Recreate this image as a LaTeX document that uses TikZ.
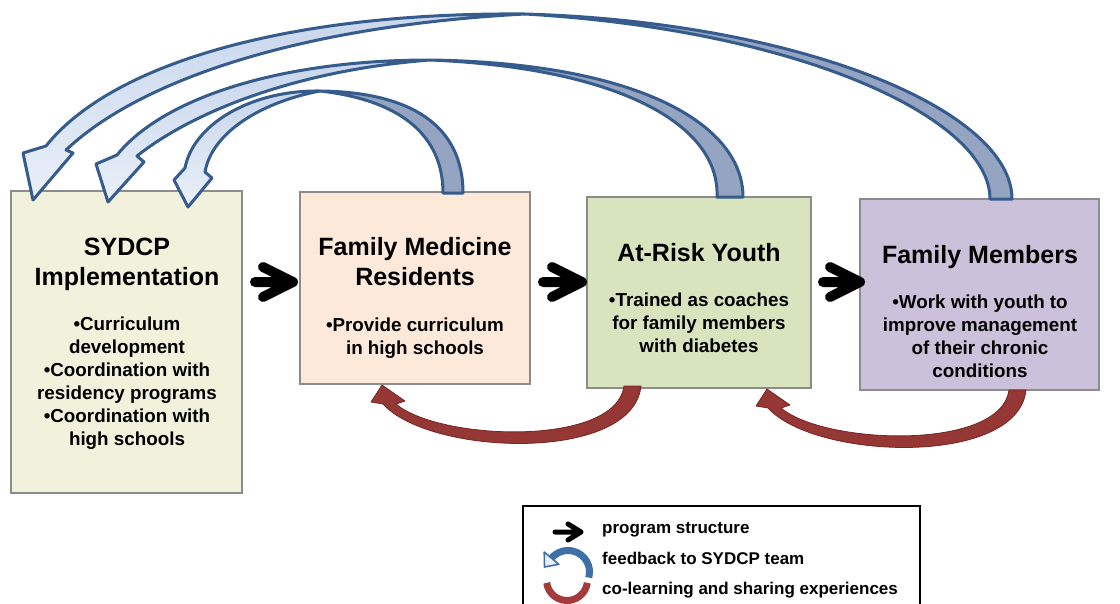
\documentclass[tikz,border=0pt]{standalone}
\usepackage{fontspec}
\setmainfont{Liberation Sans}
\usetikzlibrary{calc}
\definecolor{boxline}{RGB}{140,140,140}
\definecolor{sydfill}{RGB}{242,242,220}
\definecolor{fmrfill}{RGB}{253,233,217}
\definecolor{aryfill}{RGB}{215,228,189}
\definecolor{fmmfill}{RGB}{204,193,218}
\definecolor{fbline}{RGB}{53,92,140}
\definecolor{fbdark}{RGB}{149,164,192}
\definecolor{fblighttop}{RGB}{200,214,236}
\definecolor{fblightbot}{RGB}{234,240,249}
\definecolor{colred}{RGB}{149,55,53}
\definecolor{colreddark}{RGB}{118,38,36}
\definecolor{legblue}{RGB}{62,111,166}
\definecolor{legred}{RGB}{163,59,58}
\tikzset{
  box/.style={draw=boxline, line width=1.2pt, rectangle, inner sep=0pt},
  ttl/.style={font=\fontsize{25}{30}\selectfont\bfseries, anchor=base, inner sep=0pt},
  bdy/.style={font=\fontsize{18.8}{23}\selectfont\bfseries, anchor=base, inner sep=0pt},
  legtxt/.style={font=\fontsize{17}{20}\selectfont\bfseries, anchor=base west, inner sep=0pt},
  prog/.style={draw=black, line width=10pt, line cap=round, line join=round},
  fbdarkp/.style={fill=fbdark, draw=fbline, line width=3pt, line join=round},
  fblightp/.style={top color=fblighttop, bottom color=fblightbot, draw=fbline, line width=3pt, line join=round},
  redp/.style={fill=colred, draw=colreddark, line width=0.8pt, line join=round},
}
\begin{document}
\begin{tikzpicture}[x=1pt, y=-1pt]
\useasboundingbox (0,0) rectangle (1120,603);
\clip (0,0) rectangle (1120,603);

% boxes
\node[box, fill=sydfill, minimum width=231pt, minimum height=302pt] (syd) at (126.5,342) {};
\node[box, fill=fmrfill, minimum width=230pt, minimum height=192pt] (fmr) at (415,288) {};
\node[box, fill=aryfill, minimum width=224pt, minimum height=191pt] (ary) at (699,292.5) {};
\node[box, fill=fmmfill, minimum width=239pt, minimum height=191pt] (fmm) at (979.5,294.5) {};

% texts
\node[ttl] (sydt1) at (127,255) {SYDCP};
\node[ttl] (sydt2) at (127,285) {Implementation};
\node[bdy] (sydb1) at (127,330) {•Curriculum};
\node[bdy] (sydb2) at (127,353) {development};
\node[bdy] (sydb3) at (127,376) {•Coordination with};
\node[bdy] (sydb4) at (127,399) {residency programs};
\node[bdy] (sydb5) at (127,422) {•Coordination with};
\node[bdy] (sydb6) at (127,445) {high schools};

\node[ttl] (fmrt1) at (415,255) {Family Medicine};
\node[ttl] (fmrt2) at (415,285) {Residents};
\node[bdy] (fmrb1) at (415,331) {•Provide curriculum};
\node[bdy] (fmrb2) at (415,354) {in high schools};

\node[ttl] (aryt1) at (699,261) {At-Risk Youth};
\node[bdy] (aryb1) at (699,306) {•Trained as coaches};
\node[bdy] (aryb2) at (699,329) {for family members};
\node[bdy] (aryb3) at (699,352) {with diabetes};

\node[ttl] (fmmt1) at (980,263) {Family Members};
\node[bdy] (fmmb1) at (980,308) {•Work with youth to};
\node[bdy] (fmmb2) at (980,331) {improve management};
\node[bdy] (fmmb3) at (980,354) {of their chronic};
\node[bdy] (fmmb4) at (980,377) {conditions};

% program structure arrows
\coordinate (p1s) at (255,282); \coordinate (p1t) at (293,282);
\coordinate (p2s) at (543,282); \coordinate (p2t) at (582,282);
\coordinate (p3s) at (823,282); \coordinate (p3t) at (860,282);
\foreach \s/\t in {p1s/p1t, p2s/p2t, p3s/p3t}{
  \draw[prog] (\s) -- (\t) ($(\t)+(-30,-15)$) -- (\t) -- ($(\t)+(-30,15)$);
}

% feedback arrows (Family Members -> SYDCP)
\path[fbdarkp] (1012,199) .. controls (1012,110) and (800,22) .. (525,14)
  .. controls (800,30) and (990,118) .. (990,199) -- cycle;
\path[fblightp] (525,14) .. controls (290,12) and (112,63) .. (46,146)
  -- (23,153) -- (33,200) -- (73,153) -- (66,150)
  .. controls (140,80) and (300,26) .. (525,14) -- cycle;
% At-Risk Youth -> SYDCP
\path[fbdarkp] (743,197) .. controls (743,125) and (640,63) .. (430,60)
  .. controls (620,68) and (720,125) .. (717,197) -- cycle;
\path[fblightp] (430,60) .. controls (280,60) and (163,98) .. (117,155)
  -- (96,164) -- (108,202) -- (144,162) -- (137,156)
  .. controls (195,110) and (300,70) .. (430,60) -- cycle;
% Family Medicine -> SYDCP
\path[fbdarkp] (463,193) .. controls (463,125) and (410,92) .. (320,91)
  .. controls (400,100) and (443,135) .. (443,193) -- cycle;
\path[fblightp] (320,91) .. controls (250,90) and (193,125) .. (185,168)
  -- (174,180) -- (188,207) -- (212,178) -- (205,172)
  .. controls (212,132) and (262,102) .. (320,91) -- cycle;

% co-learning arrows
\path[redp] (641,386) .. controls (633,463) and (430,456) .. (383,404)
  -- (371,402) -- (382,385) -- (405,401) -- (396,404)
  .. controls (440,441) and (616,447) .. (624,386) -- cycle;
\begin{scope}[shift={(385,4)}]
\path[redp] (641,386) .. controls (633,463) and (430,456) .. (383,404)
  -- (371,402) -- (382,385) -- (405,401) -- (396,404)
  .. controls (440,441) and (616,447) .. (624,386) -- cycle;
\end{scope}

% legend
\node[draw=black, line width=1.3pt, minimum width=397pt, minimum height=112pt, inner sep=0pt] (legend) at (721.5,562) {};
\coordinate (l1s) at (555,532); \coordinate (l1t) at (581,532);
\draw[draw=black, line width=5pt, line cap=round, line join=round] (l1s) -- (l1t) ($(l1t)+(-13,-8)$) -- (l1t) -- ($(l1t)+(-13,8)$);
\begin{scope}[shift={(568,572)}, x=1pt, y=1pt]
  \draw[legblue, line width=7pt] (-15:21.5) arc[start angle=-15, end angle=140, radius=21.5];
  \filldraw[fill=fblightbot, draw=legblue, line width=1.6pt, line join=round] (140:12) -- (140:31) -- (-23.5,5) -- cycle;
\end{scope}
\begin{scope}[shift={(567,580)}, x=1pt, y=1pt]
  \draw[legred, line width=7pt] (188:20.5) arc[start angle=188, end angle=352, radius=20.5];
\end{scope}
\node[legtxt] (leg1) at (602,533) {program structure};
\node[legtxt] (leg2) at (602,564) {feedback to SYDCP team};
\node[legtxt] (leg3) at (602,594) {co-learning and sharing experiences};
\end{tikzpicture}
\end{document}
